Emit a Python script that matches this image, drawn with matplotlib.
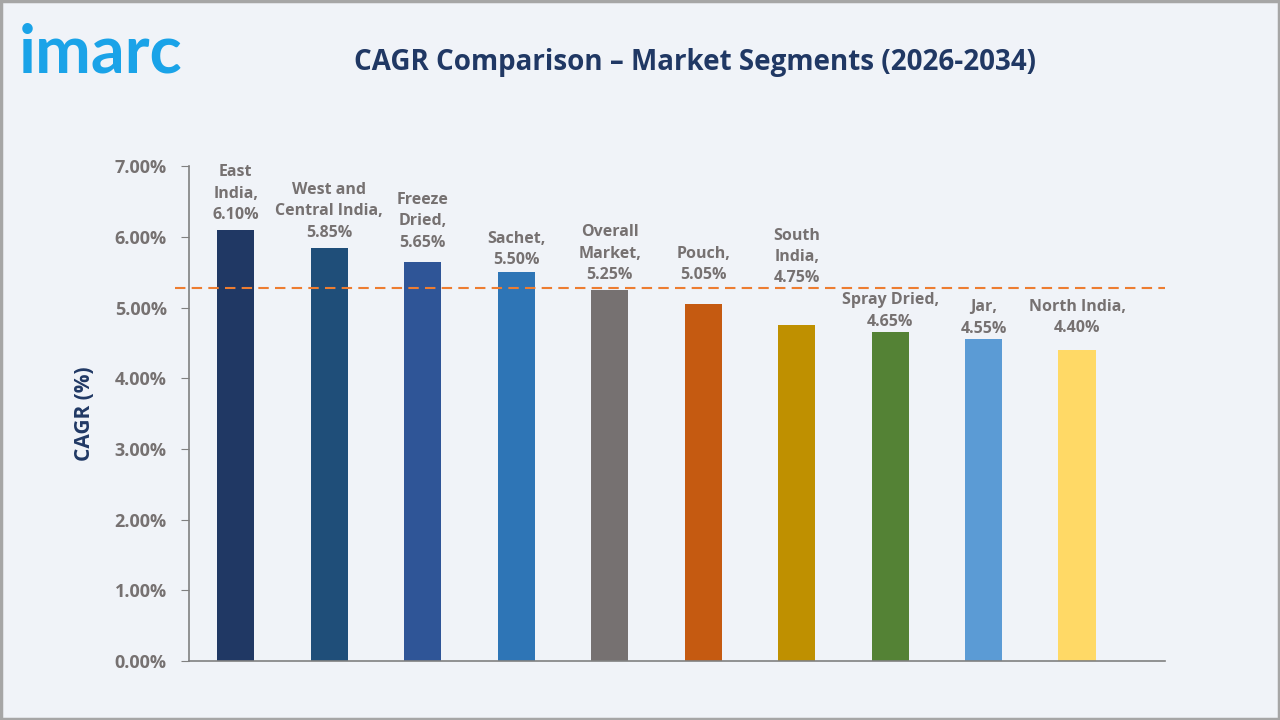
import matplotlib
matplotlib.use('Agg')
import matplotlib.pyplot as plt
from matplotlib.patches import Rectangle

segments = ['East\nIndia,', 'West and\nCentral India,', 'Freeze\nDried,', 'Sachet,',
            'Overall\nMarket,', 'Pouch,', 'South\nIndia,', 'Spray Dried,', 'Jar,', 'North India,']
cagr = [6.10, 5.85, 5.65, 5.50, 5.25, 5.05, 4.75, 4.65, 4.55, 4.40]
colors = ['#203864', '#1F4E79', '#2F5597', '#2E75B6', '#767171',
          '#C55A11', '#BF9000', '#548235', '#5B9BD5', '#FFD966']
ref_line = 5.28
yticks = [0, 1, 2, 3, 4, 5, 6, 7]

# label gaps above the bars (points), as placed in the original
label_gap = [5, 5, 8, 3, 5, 15, 28, 2, 2, 10]

bg = '#F0F3F8'
navy = '#203864'
grey = '#767171'

plt.rcParams['font.family'] = ['Open Sans', 'DejaVu Sans']

fig = plt.figure(figsize=(12.8, 7.2), dpi=100, facecolor=bg)
fig.patches.append(Rectangle((0.001, 0.001), 0.998, 0.997, transform=fig.transFigure,
                             fill=False, edgecolor='#A6A6A6', linewidth=2.5))

ax = fig.add_axes([0.1477, 0.082, 0.7625, 0.687])
ax.set_facecolor(bg)

x = list(range(len(cagr)))
ax.bar(x, cagr, width=0.4, color=colors, zorder=2)

for xi, v, lab, gap in zip(x, cagr, segments, label_gap):
    ax.annotate(f'{lab}\n{v:.2f}%', (xi, v), xytext=(0, gap), textcoords='offset points',
                ha='center', va='bottom', fontsize=11.5, fontweight='bold',
                color=grey, linespacing=1.45)

ax.axhline(ref_line, xmin=-0.014, xmax=1, color='#ED7D31', linestyle=(0, (5, 3)),
           linewidth=1.5, clip_on=False, zorder=3)

ax.set_xlim(-0.5, 9.94)
ax.set_ylim(0, 7)
ax.set_yticks(yticks)
ax.set_yticklabels([f'{t:.2f}%' for t in yticks])
ax.set_xticks([])
ax.tick_params(axis='y', direction='out', length=6, color='#808080', pad=10,
               labelsize=13, labelcolor=grey)
for lbl in ax.get_yticklabels():
    lbl.set_fontweight('bold')
for side in ['top', 'right']:
    ax.spines[side].set_visible(False)
for side in ['left', 'bottom']:
    ax.spines[side].set_color('#808080')
    ax.spines[side].set_linewidth(1.2)

ax.set_ylabel('CAGR (%)', fontsize=15, fontweight='bold', color=navy, labelpad=14)

fig.text(0.543, 0.913, 'CAGR Comparison \u2013 Market Segments (2026-2034)', ha='center',
         va='center', fontsize=20, fontweight='bold', color=navy)
fig.text(0.015, 0.899, 'imarc', ha='left', va='baseline', fontsize=48, fontweight='bold',
         color='#1AA3E8', family=['Lato', 'DejaVu Sans'])

fig.savefig('out.png', dpi=100, facecolor=bg)
